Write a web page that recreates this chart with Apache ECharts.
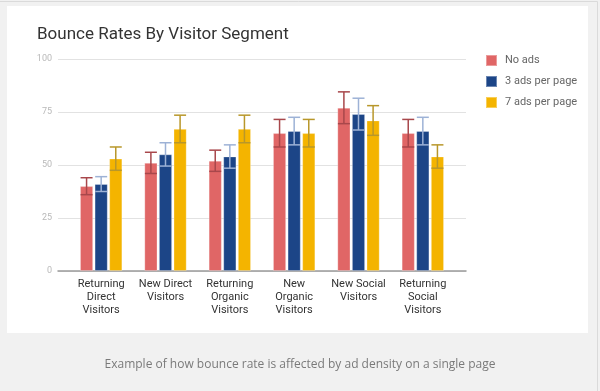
<!DOCTYPE html>
<html><head><meta charset="utf-8">
<script src="https://cdn.jsdelivr.net/npm/echarts@6/dist/echarts.min.js"></script>
<style>html,body{margin:0;padding:0;background:#f1f1f1}#c{width:600px;height:391px}</style>
</head><body><div id="c"></div>
<script>
const categories = ['Returning\nDirect\nVisitors','New Direct\nVisitors','Returning\nOrganic\nVisitors','New\nOrganic\nVisitors','New Social\nVisitors','Returning\nSocial\nVisitors'];
const seriesNames = ['No ads','3 ads per page','7 ads per page'];
const noAds   = [40, 51, 52, 65, 77, 65];
const threeAds = [41, 55, 54, 66, 74, 66];
const sevenAds = [53, 67, 67, 65, 71, 54];
const noAdsErr   = [4, 5, 5, 6.5, 7.5, 6.5];
const threeAdsErr = [3.5, 5.5, 5.5, 6.5, 7.5, 6.5];
const sevenAdsErr = [5.5, 6.5, 6.5, 6.5, 7, 5.5];
const yTicks = [0, 25, 50, 75, 100];

const colors = ['#e06666', '#1c4587', '#f4b400'];
const errColors = ['#a8474b', '#9db2d6', '#b8972a'];
const BAR_W = 13, GAP = 1.6;
const values = [noAds, threeAds, sevenAds];
const errs = [noAdsErr, threeAdsErr, sevenAdsErr];

const chart = echarts.init(document.getElementById('c'));
const font = 'Roboto, "Noto Sans", sans-serif';

function errSeries(k) {
  const data = values[k].map((v, i) => [i, v, errs[k][i]]);
  return {
    type: 'custom', xAxisIndex: 1, yAxisIndex: 1, z: 5, silent: true,
    data: data,
    renderItem: function (params, api) {
      const i = api.value(0), v = api.value(1), e = api.value(2);
      const off = (k - 1) * (BAR_W + GAP);
      const top = api.coord([i, v + e]);
      const bot = api.coord([i, v - e]);
      const x = top[0] + off;
      const hw = 6;
      const st = { stroke: errColors[k], lineWidth: 1.5 };
      return { type: 'group', children: [
        { type: 'line', shape: { x1: x, y1: top[1], x2: x, y2: bot[1] }, style: st },
        { type: 'line', shape: { x1: x - hw, y1: top[1], x2: x + hw, y2: top[1] }, style: st },
        { type: 'line', shape: { x1: x - hw, y1: bot[1], x2: x + hw, y2: bot[1] }, style: st }
      ]};
    }
  };
}

const option = {
  backgroundColor: '#f1f1f1',
  animation: false,
  title: {
    text: 'Bounce Rates By Visitor Segment', left: 32, top: 21,
    textStyle: { fontFamily: font, fontSize: 17, fontWeight: 'normal', color: '#333' }
  },
  graphic: [
    { type: 'rect', z: -100, shape: { x: 7, y: 6, width: 581, height: 327 }, style: { fill: '#ffffff' } },
    { type: 'line', z: -100, shape: { x1: 0, y1: 1.5, x2: 597.5, y2: 1.5 }, style: { stroke: '#dadada', lineWidth: 1 } },
    { type: 'line', z: -100, shape: { x1: 597.5, y1: 1.5, x2: 597.5, y2: 391 }, style: { stroke: '#dadada', lineWidth: 1 } },
    { type: 'text', left: 'center', top: 359, style: { text: 'Example of how bounce rate is affected by ad density on a single page', font: '12px "Open Sans", sans-serif', fill: '#7a7a7a' } }
  ],
  legend: {
    data: seriesNames, orient: 'vertical', left: 485, top: 54, padding: 0,
    itemWidth: 11, itemHeight: 11, itemGap: 8, icon: 'rect',
    textStyle: { fontFamily: font, fontSize: 11, color: '#666', padding: [0, 0, 0, 3] }
  },
  grid: [
    { left: 58, right: 134, top: 59, height: 212 },
    { left: 69, right: 145, top: 59, height: 212 }
  ],
  xAxis: [
    { type: 'category', gridIndex: 0, data: categories, axisLabel: { show: false }, axisTick: { show: false },
      axisLine: { show: true, lineStyle: { color: '#9a9a9a', width: 1.5 } } },
    { type: 'category', gridIndex: 1, data: categories, axisTick: { show: false }, axisLine: { show: false },
      axisLabel: { interval: 0, margin: 7, fontFamily: font, fontSize: 11, lineHeight: 13, color: '#333' } }
  ],
  yAxis: [
    { type: 'value', gridIndex: 0, min: 0, max: 100, interval: 25,
      axisLine: { show: false }, axisTick: { show: false },
      axisLabel: { margin: 6, fontFamily: font, fontSize: 9, color: '#b9b9b9',
        formatter: v => yTicks.includes(v) ? String(v) : '' },
      splitLine: { lineStyle: { color: '#e2e2e2', width: 1 } } },
    { type: 'value', gridIndex: 1, min: 0, max: 100, interval: 25, show: false, splitLine: { show: false } }
  ],
  series: [
    ...seriesNames.map((n, k) => ({
      name: n, type: 'bar', xAxisIndex: 1, yAxisIndex: 1, data: values[k],
      barWidth: BAR_W, barGap: (GAP / BAR_W * 100) + '%',
      itemStyle: { color: colors[k], borderColor: 'rgba(255,255,255,0.35)', borderWidth: 0.8 }
    })),
    errSeries(0), errSeries(1), errSeries(2)
  ]
};
chart.setOption(option);
</script></body></html>
